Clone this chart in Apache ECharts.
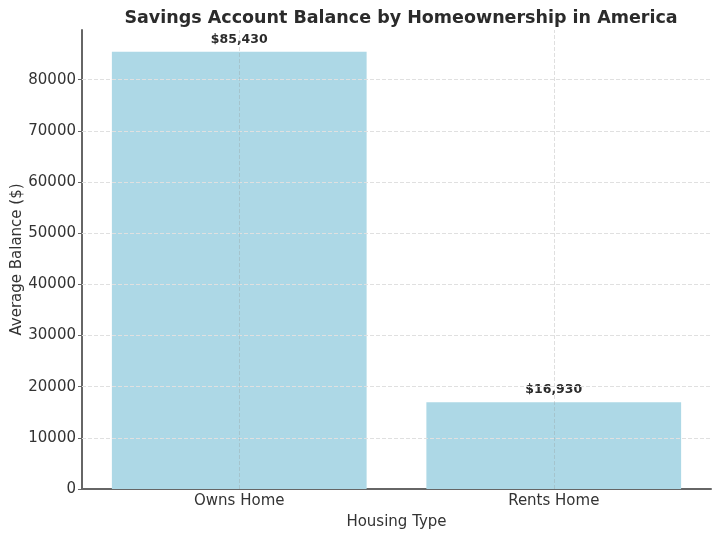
<!DOCTYPE html>
<html><head><meta charset="utf-8">
<script src="https://cdn.jsdelivr.net/npm/echarts@6/dist/echarts.min.js"></script>
<style>html,body{margin:0;padding:0;background:#fff}#c{width:720px;height:538px}</style>
</head><body><div id="c"></div>
<script>
const categories = ['Owns Home', 'Rents Home'];
const balances = [85430, 16930];
const yTicks = [10000, 20000, 30000, 40000, 50000, 60000, 70000, 80000];
const yMax = 89701.5;

const font = 'DejaVu Sans';
const chart = echarts.init(document.getElementById('c'));
chart.setOption({
  animation: false,
  backgroundColor: '#fff',
  title: {
    text: 'Savings Account Balance by Homeownership in America',
    left: 396, top: 4, textAlign: 'center',
    textStyle: {fontFamily: font, fontSize: 17.5, fontWeight: 'bold', color: '#2b2b2b'}
  },
  grid: {left: 82, right: 9, top: 30, bottom: 49, outerBoundsMode: 'none', containLabel: false},
  xAxis: {
    type: 'category', data: categories,
    name: 'Housing Type', nameLocation: 'middle', nameGap: 26,
    nameTextStyle: {fontFamily: font, fontSize: 15, color: '#333'},
    axisLine: {lineStyle: {color: '#666', width: 2}},
    axisTick: {show: true, alignWithLabel: true, inside: true, length: 4, lineStyle: {color: '#666'}},
    axisLabel: {fontFamily: font, fontSize: 15, color: '#333', margin: 5},
    splitLine: {show: false}
  },
  yAxis: {
    type: 'value', min: 0, max: yMax, interval: 10000,
    name: 'Average Balance ($)', nameLocation: 'middle', nameGap: 57, nameMoveOverlap: false,
    nameTextStyle: {fontFamily: font, fontSize: 15, color: '#333'},
    axisLine: {show: true, lineStyle: {color: '#666', width: 2}},
    axisTick: {show: true, length: 4, lineStyle: {color: '#666'}},
    axisLabel: {fontFamily: font, fontSize: 15, color: '#333', margin: 6, showMaxLabel: false,
      formatter: v => String(v)},
    splitLine: {show: false}
  },
  series: [
    {
      type: 'line', data: [null, null], z: 1, silent: true, symbol: 'none',
      markLine: {
        silent: true, symbol: 'none', label: {show: false}, animation: false,
        lineStyle: {color: '#e0e0e0', type: 'dashed', width: 1},
        data: yTicks.map(v => ({yAxis: v}))
      }
    },
    {
      type: 'bar', data: balances, z: 2, barCategoryGap: '19%',
      itemStyle: {color: '#ADD8E6'},
      label: {
        show: true, position: 'top', distance: 6,
        formatter: p => '$' + p.value.toLocaleString('en-US'),
        fontFamily: font, fontSize: 12.5, fontWeight: 'bold', color: '#2b2b2b'
      },
      markLine: {
        silent: true, symbol: 'none', label: {show: false}, animation: false,
        lineStyle: {color: 'rgba(150,150,150,0.3)', type: 'dashed', width: 1},
        data: categories.map(c => ({xAxis: c}))
      }
    }
  ]
});
</script></body></html>
